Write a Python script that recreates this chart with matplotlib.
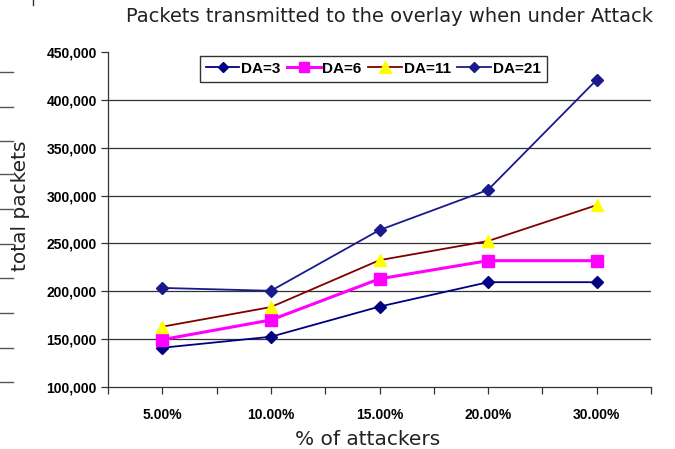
import matplotlib
matplotlib.use("Agg")
import matplotlib.pyplot as plt
from matplotlib.lines import Line2D
from matplotlib.ticker import FuncFormatter

categories = ["5.00%", "10.00%", "15.00%", "20.00%", "30.00%"]
da3 = [141000, 152500, 184000, 209500, 209500]
da6 = [149500, 170000, 213000, 232000, 232000]
da11 = [163000, 183500, 232500, 252500, 290000]
da21 = [203500, 200500, 264000, 306000, 421000]
yticks = [100000, 150000, 200000, 250000, 300000, 350000, 400000, 450000]

fig = plt.figure(figsize=(6.75, 4.49), dpi=100)
ax = fig.add_axes([108 / 675, 1 - 387 / 449, 543 / 675, 335 / 449])

x = list(range(len(categories)))

# gridlines (no line at the top of the plot area)
ax.hlines(yticks[1:-1], -0.5, 4.5, colors="#333333", linewidth=0.9, zorder=1)

ax.plot(x, da3, color="#000080", marker="D", markersize=6, linewidth=1.3,
        label="DA=3", zorder=3)
ax.plot(x, da6, color="#FF00FF", marker="s", markersize=8, linewidth=2.2,
        label="DA=6", zorder=3)
ax.plot(x, da11, color="#800000", marker="^", markersize=9, linewidth=1.3,
        markerfacecolor="#FFFF00", markeredgecolor="#FFFF00", label="DA=11", zorder=3)
ax.plot(x, da21, color="#1a1a8c", marker="D", markersize=6, linewidth=1.3,
        label="DA=21", zorder=3)

ax.set_xlim(-0.5, 4.5)
ax.set_ylim(100000, 450000)
ax.set_xticks(x)
ax.set_xticklabels(categories, fontsize=10, fontweight="bold", family="Liberation Sans")
ax.set_xticks([i - 0.5 for i in range(len(categories) + 1)], minor=True)
ax.set_yticks(yticks)
ax.yaxis.set_major_formatter(FuncFormatter(lambda v, p: f"{int(v):,}"))
for lab in ax.get_yticklabels():
    lab.set_fontsize(10)
    lab.set_fontweight("bold")
    lab.set_family("Liberation Sans")
ax.tick_params(axis="x", which="both", direction="out", length=5, width=0.9,
               color="#333333", pad=10)
ax.tick_params(axis="y", direction="out", length=5, width=0.9, color="#333333", pad=3)

for s in ["top", "right"]:
    ax.spines[s].set_visible(False)
for s in ["left", "bottom"]:
    ax.spines[s].set_color("#333333")
    ax.spines[s].set_linewidth(0.9)

ax.set_xlabel("% of attackers", fontsize=14.5, family="DejaVu Sans", labelpad=6,
              color="#222222")
ax.set_ylabel("total packets", fontsize=14.5, family="DejaVu Sans", labelpad=12,
              color="#222222")
ax.xaxis.label.set_x((368 - 108) / 543)
ax.yaxis.label.set_y((387 - 206) / 335)
fig.text(390 / 675, 1 - 17 / 449, "Packets transmitted to the overlay when under Attack",
         ha="center", va="center", fontsize=14, family="DejaVu Sans", color="#222222")

leg = ax.legend(loc="upper left", bbox_to_anchor=(84 / 543, 1.012), ncol=4,
                frameon=True, fancybox=False, framealpha=1, edgecolor="#333333",
                prop={"family": "Liberation Sans", "weight": "bold", "size": 11},
                handlelength=2.2, handletextpad=0.1, columnspacing=0.45,
                borderpad=0.4, markerscale=0.9)
leg.get_frame().set_linewidth(1.0)

# leftover marks at the left border of the picture
for yy in [72, 107, 141, 174, 209, 244, 278, 313, 348, 382]:
    fig.add_artist(Line2D([0, 13 / 675], [1 - yy / 449, 1 - yy / 449],
                          color="#555555", linewidth=1.0))
fig.add_artist(Line2D([33 / 675, 33 / 675], [1, 1 - 5 / 449], color="#333333", linewidth=1.0))

fig.savefig("out.png", dpi=100)
